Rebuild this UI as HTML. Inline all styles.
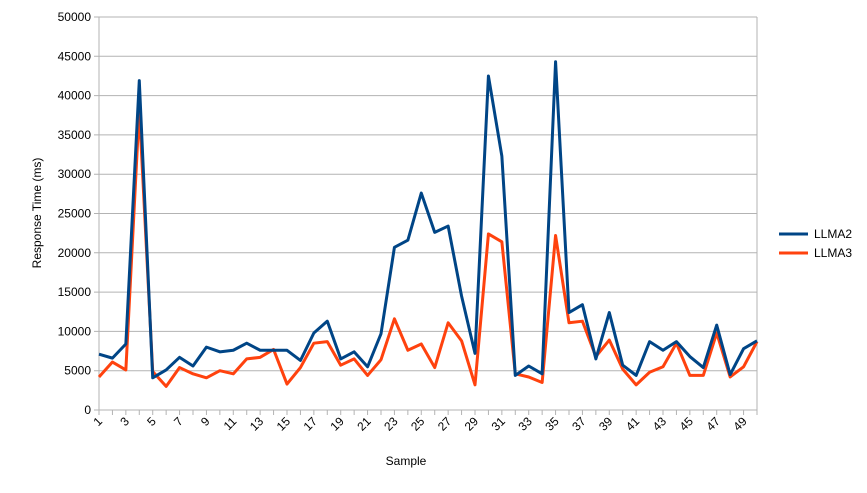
<!DOCTYPE html>
<html><head><meta charset="utf-8"><style>
body{margin:0;background:#fff;font-family:"Liberation Sans",sans-serif}
svg text{font-family:"Liberation Sans",sans-serif;font-size:12px;fill:#000}
</style></head><body>
<svg id="c" width="867" height="488"></svg>
<script>
const samples=Array.from({length:50},(_,i)=>i+1);
const llma2=[7100,6600,8400,41900,4100,5100,6700,5600,8000,7400,7600,8500,7600,7600,7600,6300,9800,11300,6500,7400,5500,9700,20700,21600,27600,22600,23400,14500,7200,42500,32300,4400,5600,4600,44300,12400,13400,6500,12400,5700,4400,8700,7600,8700,6800,5400,10800,4500,7800,8800];
const llma3=[4200,6100,5100,38300,4900,3000,5400,4600,4100,5000,4600,6500,6700,7700,3300,5400,8500,8700,5700,6500,4400,6400,11600,7600,8400,5400,11100,8800,3200,22400,21400,4600,4200,3500,22200,11100,11300,6800,8900,5200,3200,4800,5500,8500,4400,4400,9800,4200,5500,8700];
const yTicks=[0,5000,10000,15000,20000,25000,30000,35000,40000,45000,50000];
const X0=99,X1=757,Y0=410,Y1=17;
const x=i=>X0+(i-1)*(X1-X0)/(samples.length-1);
const y=v=>Y0-v/50000*(Y0-Y1);
const s=document.getElementById('c'),NS='http://www.w3.org/2000/svg';
function mk(t,a,txt){const e=document.createElementNS(NS,t);for(const k in a)e.setAttribute(k,a[k]);if(txt!=null)e.textContent=txt;s.appendChild(e);return e;}
yTicks.forEach(v=>{
 const g=mk('line',{x1:X0-5,x2:X1,y1:y(v),y2:y(v),stroke:'#b3b3b3','stroke-width':1});
 
 
 const t=mk('text',{x:91,y:y(v)+4,'text-anchor':'end'},v);
 
 
});
const ya=mk('line',{x1:X0,x2:X0,y1:Y1,y2:Y0+5,stroke:'#b3b3b3'});


const rb=mk('line',{x1:X1,x2:X1,y1:Y1,y2:Y0+5,stroke:'#b3b3b3'});


samples.forEach(n=>{
 const tk=mk('line',{x1:x(n),x2:x(n),y1:Y0,y2:Y0+5,stroke:'#b3b3b3'});
 
 
 if(n%2===1){
  const t=mk('text',{x:x(n)+4,y:Y0+12,'text-anchor':'end',transform:`rotate(-45 ${x(n)+4} ${Y0+12})`},n);
  
  
 }
});
function series(d,c,name){
 const p=mk('polyline',{points:d.map((v,i)=>x(samples[i])+','+y(v)).join(' '),fill:'none',stroke:c,'stroke-width':3,'stroke-linejoin':'round'});
 
 
}
series(llma3,'#ff420e','llma3-line');
series(llma2,'#004586','llma2-line');
const yt=mk('text',{x:41,y:213,'text-anchor':'middle',transform:'rotate(-90 41 213)'},'Response Time (ms)');


const xt=mk('text',{x:406,y:465,'text-anchor':'middle'},'Sample');


[['LLMA2','#004586',234],['LLMA3','#ff420e',253]].forEach(([n,c,yy])=>{
 const l=mk('line',{x1:779,x2:808,y1:yy,y2:yy,stroke:c,'stroke-width':3});
 
 
 const t=mk('text',{x:814,y:yy+4},n);
 
 
});
</script>
</body></html>
